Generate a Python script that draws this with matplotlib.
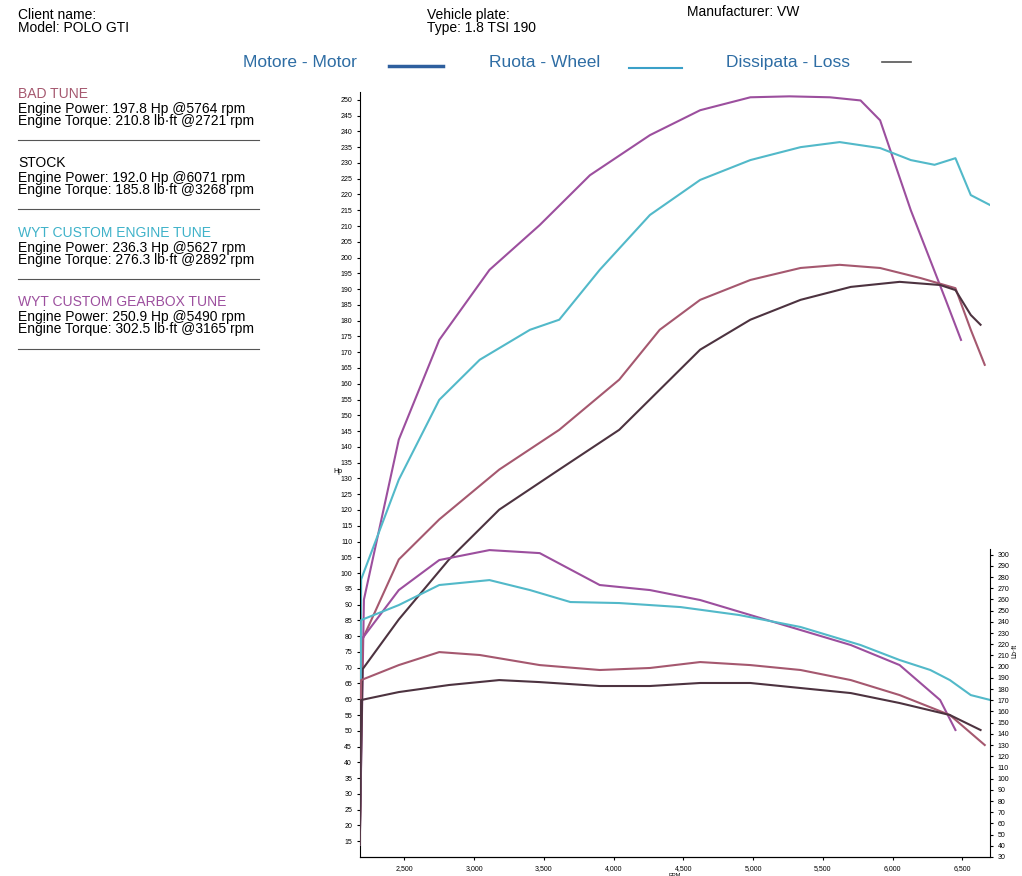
import numpy as np
import matplotlib.pyplot as plt
from matplotlib.ticker import FuncFormatter

plt.rcParams['font.family'] = ['Liberation Sans', 'DejaVu Sans']

# power curves (Hp, left axis)
rpm_gb_p = [2180, 2210, 2460, 2750, 3110, 3470, 3830, 4260, 4620, 4980, 5260, 5550, 5770, 5910, 6130, 6380, 6490]
hp_gb = [14, 91.6, 142.3, 173.9, 196.1, 210.3, 226.1, 238.8, 246.7, 250.8, 251.1, 250.8, 249.8, 243.5, 215.0, 186.6, 173.9]
rpm_eng_p = [2180, 2190, 2460, 2750, 3040, 3400, 3610, 3900, 4260, 4620, 4980, 5340, 5620, 5910, 6130, 6300, 6450, 6560, 6700]
hp_eng = [14, 98.0, 129.6, 154.9, 167.6, 177.1, 180.3, 196.1, 213.5, 224.6, 230.9, 235.0, 236.6, 234.7, 230.9, 229.4, 231.5, 219.8, 216.6]
rpm_bad_p = [2180, 2200, 2460, 2750, 3180, 3610, 4040, 4330, 4620, 4980, 5340, 5620, 5910, 6200, 6450, 6560, 6660]
hp_bad = [14, 79.0, 104.3, 117.0, 132.8, 145.4, 161.3, 177.1, 186.6, 192.9, 196.7, 197.7, 196.7, 193.5, 190.3, 177.1, 166.0]
rpm_stk_p = [2180, 2200, 2460, 2820, 3180, 3610, 4040, 4330, 4620, 4980, 5340, 5700, 6050, 6340, 6450, 6560, 6630]
hp_stk = [14, 69.5, 85.3, 104.3, 120.1, 132.8, 145.4, 158.1, 170.8, 180.3, 186.6, 190.7, 192.3, 191.3, 189.7, 181.8, 178.7]

# torque curves (lb-ft, right axis)
rpm_gb_t = [2180, 2190, 2460, 2750, 3110, 3470, 3900, 4260, 4620, 4980, 5340, 5700, 6050, 6340, 6450]
tq_gb = [41, 223.8, 268.4, 295.2, 304.1, 301.4, 272.9, 268.4, 259.5, 246.1, 232.7, 219.3, 201.4, 170.2, 143.4]
rpm_eng_t = [2180, 2190, 2460, 2750, 3110, 3400, 3690, 4040, 4480, 4900, 5340, 5770, 6050, 6270, 6410, 6560, 6700]
tq_eng = [41, 241.6, 255.0, 272.9, 277.3, 268.4, 257.7, 256.8, 253.2, 246.1, 235.4, 219.3, 205.9, 197.0, 188.0, 174.6, 170.2]
rpm_bad_t = [2180, 2190, 2460, 2750, 3040, 3470, 3900, 4260, 4620, 4980, 5340, 5700, 6050, 6410, 6660]
tq_bad = [41, 188.0, 201.4, 213.0, 210.4, 201.4, 197.0, 198.8, 204.1, 201.4, 197.0, 188.0, 174.6, 156.8, 130.0]
rpm_stk_t = [2180, 2190, 2460, 2820, 3180, 3470, 3900, 4260, 4620, 4980, 5340, 5700, 6050, 6410, 6630]
tq_stk = [41, 170.2, 177.3, 183.6, 188.0, 186.2, 182.7, 182.7, 185.4, 185.4, 180.9, 176.4, 167.5, 156.8, 143.4]

c_gb = "#9c4f9e"
c_eng = "#52b9c9"
c_bad = "#a5586f"
c_stk = "#4d3340"

fig = plt.figure(figsize=(10.22, 8.76), dpi=100)

ax1 = fig.add_axes([0.352, 0.0217, 0.617, 0.873])
ax1.plot(rpm_gb_p, hp_gb, color=c_gb, lw=1.5)
ax1.plot(rpm_eng_p, hp_eng, color=c_eng, lw=1.5)
ax1.plot(rpm_bad_p, hp_bad, color=c_bad, lw=1.5)
ax1.plot(rpm_stk_p, hp_stk, color=c_stk, lw=1.5)
ax1.set_xlim(2180, 6700)
ax1.set_ylim(10, 252.4)
ax1.set_yticks(np.arange(15, 251, 5))
ax1.set_xticks(np.arange(2500, 6501, 500))
ax1.xaxis.set_major_formatter(FuncFormatter(lambda v, p: f"{int(v):,}"))
ax1.tick_params(labelsize=5, length=2)
ax1.spines['top'].set_visible(False)
ax1.spines['right'].set_visible(False)
ax1.set_xlabel('RPM', fontsize=4, labelpad=1)
ax1.set_ylabel('Hp', fontsize=5, rotation=0, labelpad=2)

ax2 = ax1.twinx()
ax2.plot(rpm_gb_t, tq_gb, color=c_gb, lw=1.5)
ax2.plot(rpm_eng_t, tq_eng, color=c_eng, lw=1.5)
ax2.plot(rpm_bad_t, tq_bad, color=c_bad, lw=1.5)
ax2.plot(rpm_stk_t, tq_stk, color=c_stk, lw=1.5)
ax2.set_ylim(30, 713)
ax2.set_yticks(np.arange(30, 301, 10))
ax2.spines['right'].set_bounds(30, 305)
ax2.spines['top'].set_visible(False)
ax2.spines['left'].set_visible(False)
ax2.tick_params(labelsize=5, length=2)
ax2.set_ylabel('Lb·ft', fontsize=5, labelpad=2)
ax2.yaxis.set_label_coords(1.033, 0.27)

# header
fig.text(0.018, 0.975, "Client name:\nModel: POLO GTI", fontsize=10, va='center', linespacing=0.9)
fig.text(0.418, 0.975, "Vehicle plate:\nType: 1.8 TSI 190", fontsize=10, va='center', linespacing=0.9)
fig.text(0.672, 0.986, "Manufacturer: VW", fontsize=10, va='center')

# legend row
blue = "#2e6da4"
fig.text(0.238, 0.929, "Motore - Motor", fontsize=12.5, color=blue, va='center')
fig.add_artist(plt.Line2D([0.381, 0.433], [0.925, 0.925], color="#2e5f9e", lw=2.5))
fig.text(0.478, 0.929, "Ruota - Wheel", fontsize=12.5, color=blue, va='center')
fig.add_artist(plt.Line2D([0.615, 0.667], [0.922, 0.922], color="#3aa0c8", lw=1.5))
fig.text(0.710, 0.929, "Dissipata - Loss", fontsize=12.5, color=blue, va='center')
fig.add_artist(plt.Line2D([0.863, 0.891], [0.929, 0.929], color="#555555", lw=1.2))

# side summaries
blocks = [
    ("BAD TUNE", c_bad, "Engine Power: 197.8 Hp @5764 rpm\nEngine Torque: 210.8 lb·ft @2721 rpm", 0.893),
    ("STOCK", "black", "Engine Power: 192.0 Hp @6071 rpm\nEngine Torque: 185.8 lb·ft @3268 rpm", 0.814),
    ("WYT CUSTOM ENGINE TUNE", "#3fb2c9", "Engine Power: 236.3 Hp @5627 rpm\nEngine Torque: 276.3 lb·ft @2892 rpm", 0.734),
    ("WYT CUSTOM GEARBOX TUNE", c_gb, "Engine Power: 250.9 Hp @5490 rpm\nEngine Torque: 302.5 lb·ft @3165 rpm", 0.655),
]
for title, col, body, y in blocks:
    fig.text(0.018, y, title, fontsize=10, color=col, va='center')
    fig.text(0.018, y - 0.024, body, fontsize=10, va='center', linespacing=0.85)
    fig.add_artist(plt.Line2D([0.018, 0.253], [y - 0.053, y - 0.053], color="#555555", lw=0.8))

plt.savefig("out.png", dpi=100)
